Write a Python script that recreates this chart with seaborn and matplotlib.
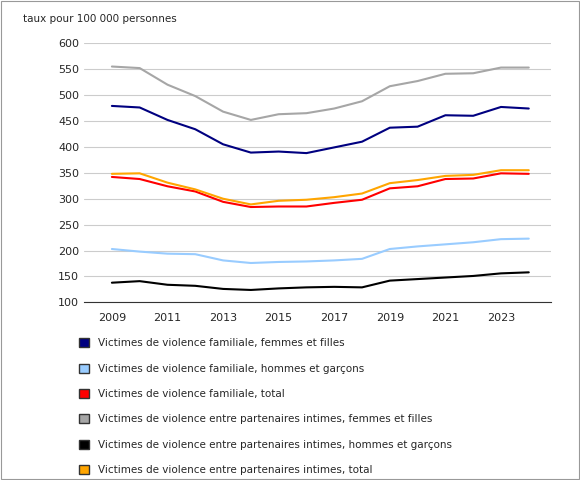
import pandas as pd
import numpy as np
import matplotlib.pyplot as plt
import seaborn as sns
from matplotlib.patches import Patch

years = list(range(2009, 2025))
fam_f = [479, 476, 452, 434, 405, 389, 391, 388, 399, 410, 437, 439, 461, 460, 477, 474]
fam_m = [203, 198, 194, 193, 181, 176, 178, 179, 181, 184, 203, 208, 212, 216, 222, 223]
fam_t = [342, 338, 324, 314, 294, 284, 285, 285, 292, 298, 320, 324, 338, 339, 349, 348]
ipv_f = [555, 552, 520, 498, 468, 452, 463, 465, 474, 488, 517, 527, 541, 542, 553, 553]
ipv_m = [138, 141, 134, 132, 126, 124, 127, 129, 130, 129, 142, 145, 148, 151, 156, 158]
ipv_t = [348, 349, 331, 318, 300, 289, 296, 298, 303, 310, 330, 336, 344, 346, 355, 355]

labels = ["Victimes de violence familiale, femmes et filles",
          "Victimes de violence familiale, hommes et garçons",
          "Victimes de violence familiale, total",
          "Victimes de violence entre partenaires intimes, femmes et filles",
          "Victimes de violence entre partenaires intimes, hommes et garçons",
          "Victimes de violence entre partenaires intimes, total"]
colors = ["#000080", "#99ccff", "#ff0000", "#a6a6a6", "#000000", "#ffa500"]
series = [fam_f, fam_m, fam_t, ipv_f, ipv_m, ipv_t]

df = pd.concat([pd.DataFrame({"year": years, "rate": s, "serie": l})
                for s, l in zip(series, labels)])

sns.set_style("white")
plt.rcParams['font.family'] = ['Verdana', 'DejaVu Sans']
fig = plt.figure(figsize=(5.8, 4.8), dpi=100)
ax = fig.add_axes([0.145, 0.37, 0.805, 0.54])
sns.lineplot(data=df, x="year", y="rate", hue="serie", palette=colors,
             hue_order=labels, linewidth=1.5, ax=ax, legend=False)
ax.set_ylim(100, 600)
ax.set_xlim(2008.0, 2024.8)
ax.set_yticks(range(100, 601, 50))
ax.set_xticks(range(2009, 2024, 2))
ax.grid(axis="y", color="#cccccc", linewidth=0.8)
for s in ["top", "right", "left"]:
    ax.spines[s].set_visible(False)
ax.spines["bottom"].set_color("#333333")
ax.tick_params(labelsize=8, length=0)
ax.tick_params(axis="x", length=4, color="#333333")
ax.set_xlabel("")
ax.set_ylabel("")
fig.text(0.04, 0.955, "taux pour 100 000 personnes", fontsize=7.5)

handles = [Patch(facecolor=c, edgecolor="#333333", label=l) for c, l in zip(colors, labels)]
fig.legend(handles=handles, loc="upper left", bbox_to_anchor=(0.12, 0.315),
           frameon=False, fontsize=7.5, handlelength=1, handleheight=1,
           labelspacing=1.45)
fig.patches.append(plt.Rectangle((0.002, 0.002), 0.996, 0.996, transform=fig.transFigure,
                                 fill=False, edgecolor="#999999", linewidth=0.8))
fig.savefig("out.png", dpi=100)
